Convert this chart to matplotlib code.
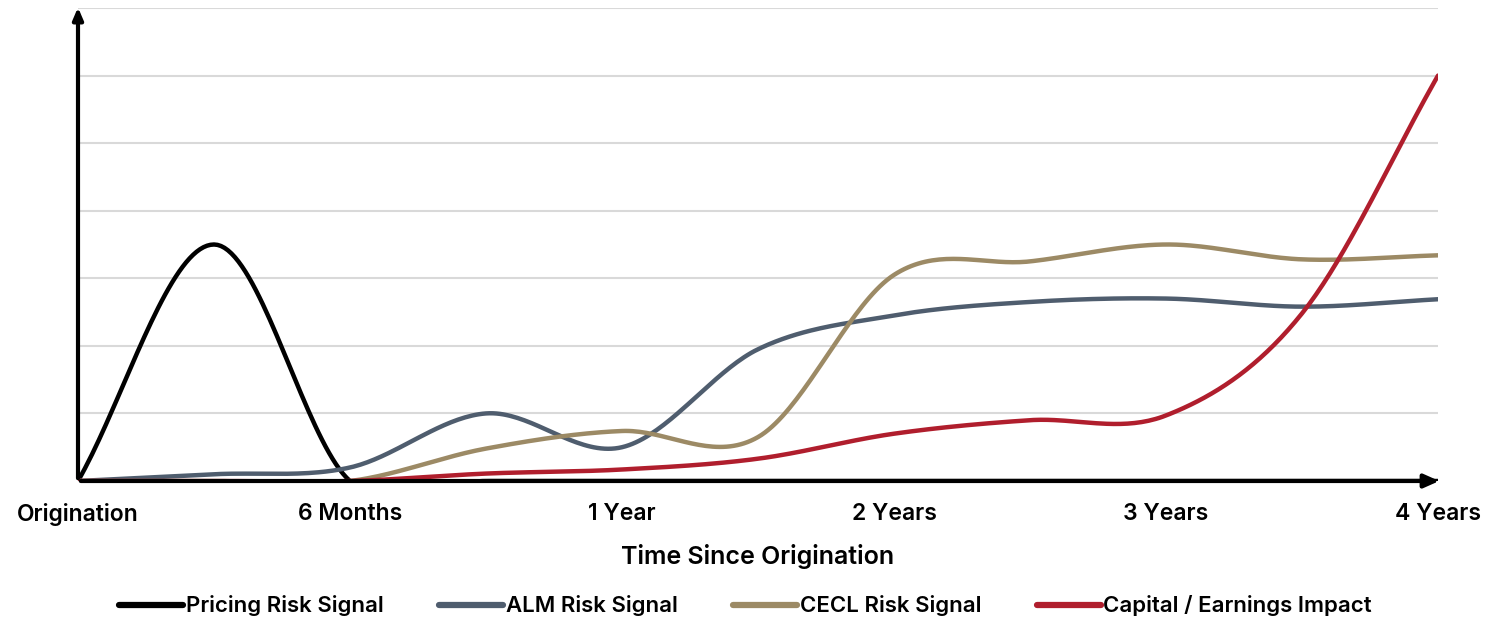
import numpy as np
import matplotlib.pyplot as plt

# data, one point every half step on the category axis
tick_labels = ["Origination", "6 Months", "1 Year", "2 Years", "3 Years", "4 Years"]
x_pts = np.arange(0, 5.01, 0.5)
pricing = [0, 3.5, 0, 0, 0, 0, 0, 0, 0, 0, 0]
alm = [0, 0.1, 0.2, 1.0, 0.5, 1.95, 2.45, 2.65, 2.7, 2.58, 2.69]
cecl = [0, 0, 0, 0.48, 0.74, 0.65, 3.05, 3.25, 3.5, 3.28, 3.34]
capital = [0, 0, 0, 0.11, 0.17, 0.33, 0.7, 0.9, 0.97, 2.48, 6.0]

names = ["Pricing Risk Signal", "ALM Risk Signal", "CECL Risk Signal", "Capital / Earnings Impact"]
colors = ["#000000", "#4F5D6E", "#9C8A65", "#B01E2D"]

plt.rcParams['font.family'] = ['Inter', 'DejaVu Sans']


def smooth(x, y, n=40):
    # catmull-rom, like a spreadsheet "smoothed line"
    x = np.asarray(x, float)
    y = np.asarray(y, float)
    xs, ys = [], []
    for i in range(len(x) - 1):
        m0 = (y[i + 1] - y[i - 1]) / 2 if i > 0 else (y[i + 1] - y[i])
        m1 = (y[i + 2] - y[i]) / 2 if i + 2 < len(y) else (y[i + 1] - y[i])
        t = np.linspace(0, 1, n)
        h00 = 2 * t**3 - 3 * t**2 + 1
        h10 = t**3 - 2 * t**2 + t
        h01 = -2 * t**3 + 3 * t**2
        h11 = t**3 - t**2
        xs.append(x[i] + t * (x[i + 1] - x[i]))
        ys.append(h00 * y[i] + h10 * m0 + h01 * y[i + 1] + h11 * m1)
    return np.concatenate(xs), np.concatenate(ys)


fig = plt.figure(figsize=(14.91, 6.2), dpi=100)
ax = fig.add_axes([78 / 1491, 139 / 620, 1360 / 1491, 473 / 620])

for k in range(1, 8):
    ax.axhline(k, color="#D9D9D9", lw=1.5, zorder=0)

for ys, c, nm in zip([pricing, alm, cecl, capital], colors, names):
    sx, sy = smooth(x_pts, ys)
    ax.plot(sx, sy, color=c, lw=3.2, label=nm, solid_capstyle="round", zorder=3)

ax.set_xlim(0, 5)
ax.set_ylim(0, 7)
for s in ax.spines.values():
    s.set_visible(False)
ax.set_yticks([])
ax.set_xticks(range(6))
ax.set_xticklabels(tick_labels, fontsize=16.5, fontweight=600)
ax.tick_params(axis="x", length=0, pad=16)

# axis arrows
ax.annotate("", xy=(5.015, 0), xytext=(0, 0), xycoords="data",
            arrowprops=dict(arrowstyle="-|>,head_length=0.9,head_width=0.4", color="black", lw=3),
            annotation_clip=False, zorder=5)
ax.annotate("", xy=(0, 7.05), xytext=(0, 0), xycoords="data",
            arrowprops=dict(arrowstyle="-|>,head_length=0.7,head_width=0.3", color="black", lw=3),
            annotation_clip=False, zorder=5)

ax.set_xlabel("Time Since Origination", fontsize=18, fontweight=600, labelpad=13)

leg = fig.legend(loc="center", bbox_to_anchor=(0.5, 14 / 620), ncol=4, frameon=False,
                 handlelength=2.9, handletextpad=0.1, columnspacing=2.5,
                 prop={"weight": 600, "size": 16})
for h in leg.get_lines():
    h.set_linewidth(4.5)
    h.set_solid_capstyle("round")

fig.savefig("out.png", dpi=100)
